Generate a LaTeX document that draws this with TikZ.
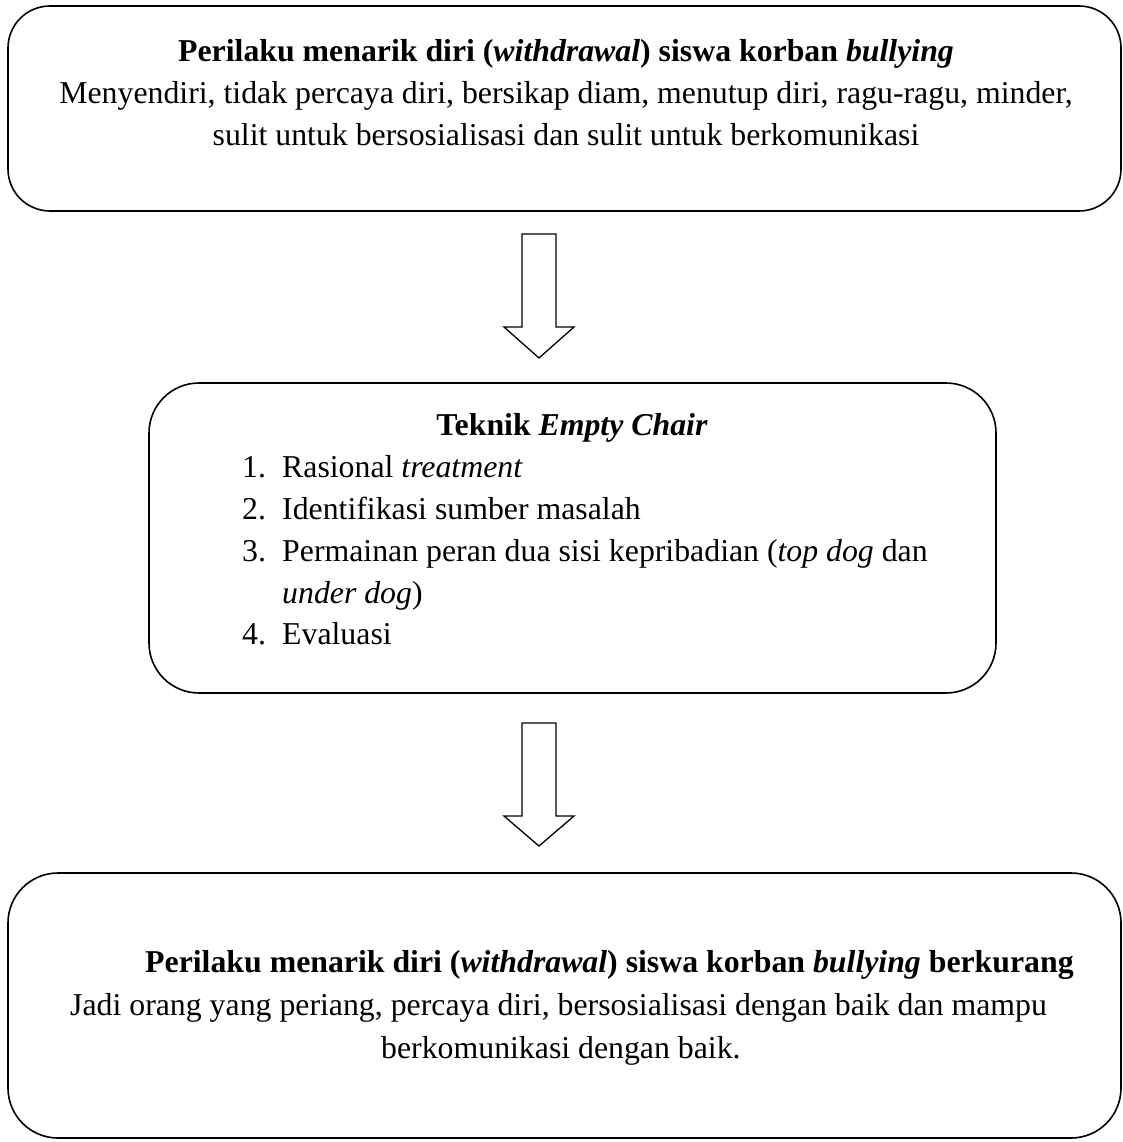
\documentclass[tikz,border=0pt]{standalone}
\usepackage{fontspec}
\setmainfont{Liberation Serif}
\begin{document}
\begin{tikzpicture}[x=1pt,y=-1pt,
  box/.style={draw,line width=1.6pt,rounded corners=#1,inner sep=0pt},
  box/.default=45pt,
  txt/.style={inner sep=0pt,font=\fontsize{31.8}{42}\selectfont},
  blockarrow/.style={draw,line width=1.3pt,line join=miter,fill=white}]
\useasboundingbox (0,0) rectangle (1123,1142);
% boxes
\node[box=42pt,minimum width=1113pt,minimum height=205pt] (b1) at (564.5,108.5) {};
\node[box=50pt,minimum width=847pt,minimum height=310pt] (b2) at (572.5,538) {};
\node[box=50pt,minimum width=1113pt,minimum height=265pt] (b3) at (564.5,1005.5) {};
% box 1 text
\node[txt,anchor=base] (t1a) at (566,62) {\textbf{Perilaku menarik diri (\textit{withdrawal}) siswa korban \textit{bullying}}};
\node[txt,anchor=base] (t1b) at (566,104) {Menyendiri, tidak percaya diri, bersikap diam, menutup diri, ragu-ragu, minder,};
\node[txt,anchor=base] (t1c) at (566,146) {sulit untuk bersosialisasi dan sulit untuk berkomunikasi};
% box 2 text
\node[txt,anchor=base] (t2) at (572,435) {\textbf{Teknik \textit{Empty Chair}}};
\node[txt,anchor=base west] (n1) at (242,477) {1.};
\node[txt,anchor=base west] (i1) at (282,477) {Rasional \textit{treatment}};
\node[txt,anchor=base west] (n2) at (242,519) {2.};
\node[txt,anchor=base west] (i2) at (282,519) {Identifikasi sumber masalah};
\node[txt,anchor=base west] (n3) at (242,561) {3.};
\node[txt,anchor=base west] (i3) at (282,561) {Permainan peran dua sisi kepribadian (\textit{top dog} dan};
\node[txt,anchor=base west] (i3b) at (282,603) {\textit{under dog})};
\node[txt,anchor=base west] (n4) at (242,644) {4.};
\node[txt,anchor=base west] (i4) at (282,644) {Evaluasi};
% box 3 text
\node[txt,anchor=base west] (t3a) at (145,972) {\textbf{Perilaku menarik diri (\textit{withdrawal}) siswa korban \textit{bullying} berkurang}};
\node[txt,anchor=base west] (t3b) at (70,1015) {Jadi orang yang periang, percaya diri, bersosialisasi dengan baik dan mampu};
\node[txt,anchor=base west] (t3c) at (381,1058) {berkomunikasi dengan baik.};
% block arrows
\coordinate (a1) at (539,234);
\coordinate (a2) at (539,723);
\draw[blockarrow] (a1) ++(-17,0) -- ++(34,0) -- ++(0,93) -- ++(18,0) -- ++(-35,31) -- ++(-35,-31) -- ++(18,0) -- cycle;
\draw[blockarrow] (a2) ++(-17,0) -- ++(34,0) -- ++(0,93) -- ++(18,0) -- ++(-35,30) -- ++(-35,-30) -- ++(18,0) -- cycle;
\end{tikzpicture}
\end{document}
